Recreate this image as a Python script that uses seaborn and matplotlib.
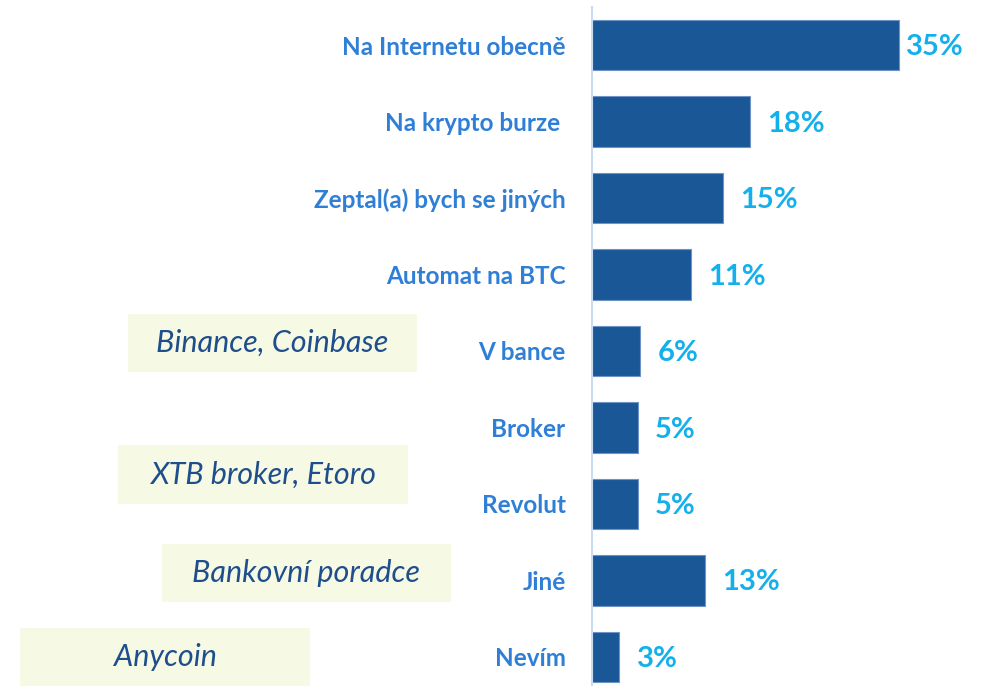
import matplotlib
matplotlib.use("Agg")
import matplotlib.pyplot as plt
from matplotlib.patches import Rectangle
import seaborn as sns

# Chart data
categories = [
    "Na Internetu obecně",
    "Na krypto burze ",
    "Zeptal(a) bych se jiných",
    "Automat na BTC",
    "V bance",
    "Broker",
    "Revolut",
    "Jiné",
    "Nevím",
]
# bar lengths, labels as printed
values = [35, 18, 14.9, 11.3, 5.5, 5.2, 5.2, 12.9, 3.1]
value_labels = ["35%", "18%", "15%", "11%", "6%", "5%", "5%", "13%", "3%"]

# Side notes (text only)
notes = ["Binance, Coinbase", "XTB broker, Etoro", "Bankovní poradce", "Anycoin"]

BAR = "#1a5797"
LABEL = "#2f7fd6"
VALUE = "#14b0ec"
NOTE_TXT = "#1f4e8c"
NOTE_BG = "#f6f9e4"
AXIS = "#c9dcf1"

sns.set_style("white")
plt.rcParams["font.family"] = ["Lato", "DejaVu Sans"]

W, H = 987, 686
fig = plt.figure(figsize=(W / 100, H / 100), dpi=100)

# axes in pixel terms: left edge at x=592, bands from y=7 to y=695
left_px, top_px, bottom_px = 592, 7, 695
px_per_unit = 8.77
xmax = 40
ax = fig.add_axes([
    left_px / W,
    1 - bottom_px / H,
    xmax * px_per_unit / W,
    (bottom_px - top_px) / H,
])

sns.barplot(x=values, y=categories, orient="h", color=BAR, width=0.66,
            edgecolor="#6f93c6", linewidth=0.8, saturation=1, ax=ax)

ax.set_xlim(0, xmax)
ax.set_ylim(len(categories) - 0.5, -0.5)
ax.set_xlabel("")
ax.set_ylabel("")
ax.set_xticks([])

for s in ["top", "right", "bottom"]:
    ax.spines[s].set_visible(False)
ax.spines["left"].set_color(AXIS)
ax.spines["left"].set_linewidth(1.5)

ax.set_yticks(range(len(categories)))
ax.set_yticklabels(categories, fontweight="bold", color=LABEL, fontsize=17.5)
ax.tick_params(axis="y", which="major", length=0, pad=19)
ax.set_yticks([i - 0.5 for i in range(len(categories) + 1)], minor=True)
ax.tick_params(axis="y", which="minor", length=8, width=1.5, color=AXIS)

vmax = max(values)
for i, (v, lab) in enumerate(zip(values, value_labels)):
    # longest bar keeps its label tight, others sit further out
    off = 5 if v == vmax else 12.5
    ax.annotate(lab, (v, i), xytext=(off, -1.5), textcoords="offset points",
                ha="left", va="center", fontsize=21, fontweight="bold",
                color=VALUE)

# note boxes (pixel coordinates: x, y_top, w, h)
boxes = [(128, 314, 289, 58), (118, 445, 290, 59),
         (162, 544, 289, 58), (20, 628, 290, 58)]
for (bx, by, bw, bh), txt in zip(boxes, notes):
    fig.patches.append(Rectangle((bx / W, 1 - (by + bh) / H), bw / W, bh / H,
                                 transform=fig.transFigure, facecolor=NOTE_BG,
                                 edgecolor="none", zorder=0))
    fig.text((bx + bw / 2) / W, 1 - (by + bh / 2) / H, txt, ha="center",
             va="center", fontsize=22, style="italic", color=NOTE_TXT)

fig.savefig("out.png", dpi=100, facecolor="white")
